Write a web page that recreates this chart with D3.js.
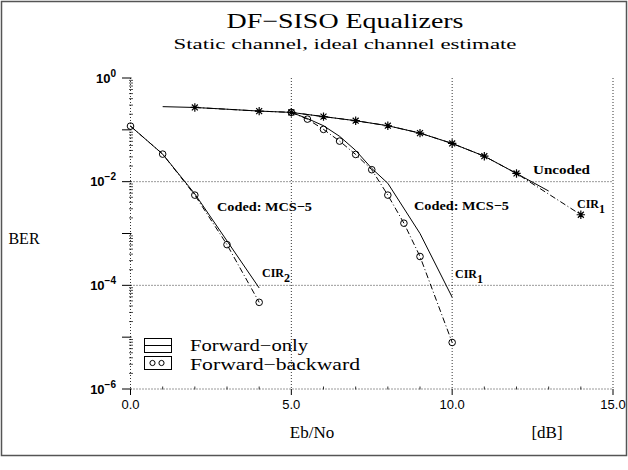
<!DOCTYPE html>
<html><head><meta charset="utf-8">
<script src="https://cdn.jsdelivr.net/npm/d3@7"></script>
<style>body{margin:0;background:#fff}svg{display:block}</style>
</head><body>
<svg id="c" width="628" height="470"></svg>
<script>
// ---- data ----
const uncFoX = [1,2,3,4,5,6,7,8,9,10,11,12,13];
const uncFoY = [0.28,0.27,0.25,0.23,0.217,0.18,0.15,0.12,0.0865,0.0546,0.031,0.0144,0.0066];
const uncFbX = [2,4,5,6,7,8,9,10,11,12,14];
const uncFbY = [0.27,0.23,0.217,0.18,0.15,0.12,0.0865,0.0546,0.031,0.0144,0.0023];
const cir2FoX = [0,1,2,3,4];
const cir2FoY = [0.118,0.034,0.0058,7.2e-4,8.9e-5];
const cir2FbX = [0,1,2,3,4];
const cir2FbY = [0.118,0.034,0.0055,6.1e-4,4.7e-5];
const cir1FoX = [5,5.5,6,6.5,7,7.5,8,9,10];
const cir1FoY = [0.217,0.165,0.12,0.075,0.04,0.018,0.0093,0.001,5.9e-5];
const cir1FbX = [5,5.5,6,6.5,7,7.5,8,8.5,9,10];
const cir1FbY = [0.217,0.161,0.102,0.0606,0.0335,0.017,0.0055,0.00158,3.6e-4,7.9e-6];
const xTicks = [0,5,10,15];
const xTickLabels = ["0.0","5.0","10.0","15.0"];
const yLabelExp = [0,-2,-4,-6];

const svg = d3.select("#c");
const x = d3.scaleLinear().domain([0,15]).range([130.5,613]);
const y = d3.scaleLog().domain([1e-6,1]).range([389,78]);
const serif = "'Liberation Serif','DejaVu Serif',serif";
const sans = "'Liberation Sans','DejaVu Sans',sans-serif";

// border
svg.append("rect").attr("x",1.5).attr("y",1.5).attr("width",625).attr("height",454)
  .attr("fill","none").attr("stroke","#555").attr("stroke-width",1.5);

// titles
svg.append("text").attr("x",345).attr("y",28).attr("text-anchor","middle")
  .attr("font-family",serif).attr("font-size",21).attr("textLength",237).attr("lengthAdjust","spacingAndGlyphs")
  .text("DF\u2212SISO Equalizers");
svg.append("text").attr("x",345).attr("y",49).attr("text-anchor","middle")
  .attr("font-family",serif).attr("font-size",14.5).attr("textLength",343).attr("lengthAdjust","spacingAndGlyphs")
  .text("Static channel, ideal channel estimate");

const g = svg.append("g");
const dot = "1,2";
// grid lines
[5,10,15].forEach(v=>{
  g.append("line").attr("x1",x(v)).attr("x2",x(v)).attr("y1",y(1)).attr("y2",y(1e-6))
   .attr("stroke","#000").attr("stroke-width",0.8).attr("stroke-dasharray",dot);
});
[1e-2,1e-4,1e-6].forEach(v=>{
  g.append("line").attr("x1",x(0)).attr("x2",x(15)).attr("y1",y(v)).attr("y2",y(v))
   .attr("stroke","#000").attr("stroke-width",0.8).attr("stroke-dasharray",dot);
});
// left axis dotted
g.append("line").attr("x1",x(0)).attr("x2",x(0)).attr("y1",y(1)).attr("y2",y(1e-6))
 .attr("stroke","#000").attr("stroke-width",0.8).attr("stroke-dasharray",dot);

// y ticks
for(let e=0;e>=-6;e--){
  const yy=y(Math.pow(10,e));
  g.append("line").attr("x1",x(0)-8.5).attr("x2",x(0)+1).attr("y1",yy).attr("y2",yy).attr("stroke","#000").attr("stroke-width",1);
  if(e>-6){
    for(let m=2;m<=9;m++){
      const ym=y(m*Math.pow(10,e-1));
      g.append("line").attr("x1",x(0)-1.5).attr("x2",x(0)+2.5).attr("y1",ym).attr("y2",ym).attr("stroke","#000").attr("stroke-width",0.7);
    }
  }
}
// x ticks
for(let v=0;v<=15;v++){
  if(v%5===0){
    g.append("line").attr("x1",x(v)).attr("x2",x(v)).attr("y1",y(1e-6)).attr("y2",y(1e-6)+6).attr("stroke","#000").attr("stroke-width",1);
  } else {
    g.append("line").attr("x1",x(v)).attr("x2",x(v)).attr("y1",y(1e-6)-2.5).attr("y2",y(1e-6)+0.5).attr("stroke","#000").attr("stroke-width",0.8);
  }
}
// x tick labels
xTicks.forEach((v,i)=>{
  g.append("text").attr("x",x(v)).attr("y",y(1e-6)+20).attr("text-anchor","middle")
   .attr("font-family",sans).attr("font-size",13).text(xTickLabels[i]);
});
// y tick labels
yLabelExp.forEach(e=>{
  const yy=y(Math.pow(10,e));
  const t=g.append("text").attr("x",116).attr("y",yy+4.5).attr("text-anchor","end")
   .attr("font-family",sans).attr("font-weight","bold").attr("font-size",13);
  t.append("tspan").text("10");
  t.append("tspan").attr("dy",-6).attr("font-size",10).text(e===0?"0":"\u2212"+(-e));
});

// axis titles
svg.append("text").attr("x",312).attr("y",438).attr("text-anchor","middle")
  .attr("font-family",serif).attr("font-size",17).text("Eb/No");
svg.append("text").attr("x",547).attr("y",438).attr("text-anchor","middle")
  .attr("font-family",serif).attr("font-size",17).text("[dB]");
svg.append("text").attr("x",24).attr("y",244).attr("text-anchor","middle")
  .attr("font-family",serif).attr("font-size",16).text("BER");

// curves
const line = d3.line().x(d=>x(d[0])).y(d=>y(d[1]));
const zip=(a,b)=>a.map((v,i)=>[v,b[i]]);
const dashdot="6,2.5,1,2.5";
function curve(xs,ys,dash){
  g.append("path").datum(zip(xs,ys)).attr("d",line).attr("fill","none")
   .attr("stroke","#000").attr("stroke-width",1).attr("stroke-dasharray",dash||null);
}
curve(uncFoX,uncFoY);
curve(uncFbX,uncFbY,dashdot);
curve(cir2FoX,cir2FoY);
curve(cir2FbX,cir2FbY,dashdot);
curve(cir1FoX,cir1FoY);
curve(cir1FbX,cir1FbY,dashdot);

// markers
function circles(xs,ys){
  g.selectAll(null).data(zip(xs,ys)).enter().append("circle")
   .attr("cx",d=>x(d[0])).attr("cy",d=>y(d[1])).attr("r",3.3)
   .attr("fill","none").attr("stroke","#000").attr("stroke-width",1);
}
circles(cir2FbX,cir2FbY);
circles(cir1FbX,cir1FbY);
const star = d=>{
  const cx=x(d[0]), cy=y(d[1]), r=4.2;
  let p="";
  for(let k=0;k<4;k++){
    const a=k*Math.PI/4;
    p+=`M${cx-r*Math.cos(a)},${cy-r*Math.sin(a)}L${cx+r*Math.cos(a)},${cy+r*Math.sin(a)}`;
  }
  return p;
};
g.selectAll(null).data(zip(uncFbX,uncFbY)).enter().append("path")
 .attr("d",star).attr("stroke","#000").attr("stroke-width",1.2).attr("fill","none");

// annotations
function ann(tx,ty,txt,w){
  const t=svg.append("text").attr("x",tx).attr("y",ty).attr("font-family",serif).attr("font-size",13).attr("font-weight","bold");
  if(w) t.attr("textLength",w).attr("lengthAdjust","spacingAndGlyphs");
  t.text(txt);
}
ann(217,211,"Coded: MCS\u22125",95);
ann(414,210,"Coded: MCS\u22125",95);
ann(533,174,"Uncoded",57);
function cir(tx,ty,sub){
  const t=svg.append("text").attr("x",tx).attr("y",ty).attr("font-family",serif).attr("font-size",12).attr("font-weight","bold");
  t.append("tspan").text("CIR");
  t.append("tspan").attr("dy",5).attr("font-size",12).text(sub);
}
cir(577,208,"1");
cir(262,277,"2");
cir(455,278,"1");

// legend
const L = svg.append("g");
L.append("rect").attr("x",144.5).attr("y",338.5).attr("width",27).attr("height",14).attr("fill","none").attr("stroke","#000").attr("stroke-width",1);
L.append("line").attr("x1",144.5).attr("x2",171.5).attr("y1",345.5).attr("y2",345.5).attr("stroke","#000").attr("stroke-width",1);
L.append("rect").attr("x",144.5).attr("y",356.5).attr("width",27).attr("height",13).attr("fill","none").attr("stroke","#000").attr("stroke-width",1);
[152.5,161.5].forEach(cx=>L.append("circle").attr("cx",cx).attr("cy",363).attr("r",2.6).attr("fill","none").attr("stroke","#000").attr("stroke-width",1));
L.append("text").attr("x",190).attr("y",351).attr("font-family",serif).attr("font-size",16)
 .attr("textLength",118).attr("lengthAdjust","spacingAndGlyphs").text("Forward\u2212only");
L.append("text").attr("x",190).attr("y",370).attr("font-family",serif).attr("font-size",16)
 .attr("textLength",170).attr("lengthAdjust","spacingAndGlyphs").text("Forward\u2212backward");
</script>
</body></html>
